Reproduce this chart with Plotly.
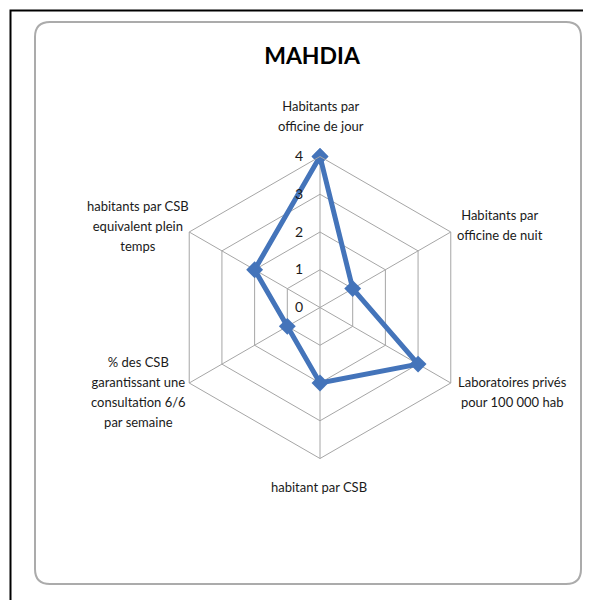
import plotly.graph_objects as go

categories = [
    "Habitants par<br>officine de jour",
    "Habitants par<br>officine de nuit",
    "Laboratoires privés<br>pour 100 000 hab",
    "habitant par CSB",
    "% des CSB<br>garantissant une<br>consultation 6/6<br>par semaine",
    "habitants par CSB<br>equivalent plein<br>temps",
]
values = [4, 1, 3, 2, 1, 2]
radial_ticks = [0, 1, 2, 3, 4]
title_text = "MAHDIA"

# page offset (body margin) compensation
OFF = 8
W, H = 591 - 2 * OFF, 608 - 2 * OFF
cx, cy, R = 320, 307.5, 151

def px_x(x):
    return (x - OFF) / W

def px_y(y):
    return 1 - (y - OFF) / H

fontfam = "Lato, 'Open Sans', sans-serif"
BLUE = "#4474BA"

fig = go.Figure()
fig.add_trace(go.Scatterpolar(
    r=values + [values[0]],
    theta=categories + [categories[0]],
    mode="lines+markers",
    line=dict(color=BLUE, width=5),
    marker=dict(symbol="diamond", size=13, color=BLUE),
    showlegend=False,
    hoverinfo="skip",
))

# category label positions (screen px, block centre)
label_pos = [(321, 116), (500, 225), (512, 392), (319, 487), (138, 392), (138, 226)]
annotations = []
for cat, (lx, ly) in zip(categories, label_pos):
    lines = cat.split("<br>")
    txt = "<br>".join(f"<span style='font-size:13px'>{ln}</span>" for ln in lines)
    annotations.append(dict(
        text=txt, x=px_x(lx), y=px_y(ly), xref="paper", yref="paper",
        xanchor="center", yanchor="middle", align="center", showarrow=False,
        font=dict(family=fontfam, size=15.4, color="#1a1a1a"),
    ))

# rounded rectangle path (paper coords)
x0, y0, x1, y1, rr = 35, 22, 581, 584, 15
rx, ry = rr / W, rr / H
X0, X1 = px_x(x0), px_x(x1)
Y0, Y1 = px_y(y0), px_y(y1)
path = (
    f"M {X0+rx},{Y0} L {X1-rx},{Y0} Q {X1},{Y0} {X1},{Y0-ry} "
    f"L {X1},{Y1+ry} Q {X1},{Y1} {X1-rx},{Y1} "
    f"L {X0+rx},{Y1} Q {X0},{Y1} {X0},{Y1+ry} "
    f"L {X0},{Y0-ry} Q {X0},{Y0} {X0+rx},{Y0} Z"
)

NB = "\u00a0"
fig.update_layout(
    width=W, height=H,
    margin=dict(l=0, r=0, t=0, b=0),
    paper_bgcolor="white",
    plot_bgcolor="white",
    font=dict(family=fontfam, size=13, color="#1a1a1a"),
    title=dict(
        text=f"<b>{title_text}</b>",
        x=px_x(312), xanchor="center",
        y=px_y(56), yanchor="middle",
        font=dict(family=fontfam, size=23, color="#000000"),
    ),
    annotations=annotations,
    polar=dict(
        domain=dict(x=[px_x(cx - R), px_x(cx + R)], y=[px_y(cy + R), px_y(cy - R)]),
        bgcolor="white",
        gridshape="linear",
        radialaxis=dict(
            range=[0, 4],
            tickvals=radial_ticks,
            ticktext=[str(t) + NB * 4 for t in radial_ticks],
            angle=90,
            tickangle=90,
            side="counterclockwise",
            showline=False,
            ticks="",
            gridcolor="#A6A6A6",
            gridwidth=1,
            tickfont=dict(family=fontfam, size=14, color="#1a1a1a"),
        ),
        angularaxis=dict(
            direction="clockwise",
            rotation=90,
            showline=True,
            linecolor="#A6A6A6",
            linewidth=1,
            gridcolor="#A6A6A6",
            gridwidth=1,
            ticks="",
            showticklabels=False,
        ),
    ),
    shapes=[
        dict(type="rect", xref="paper", yref="paper",
             x0=px_x(10.5), y0=px_y(640), x1=px_x(640), y1=px_y(10.5),
             line=dict(color="black", width=2), fillcolor="rgba(0,0,0,0)", layer="below"),
        dict(type="path", xref="paper", yref="paper", path=path,
             line=dict(color="#ABABAB", width=2), fillcolor="white", layer="below"),
    ],
)

fig.write_html("out.html")
